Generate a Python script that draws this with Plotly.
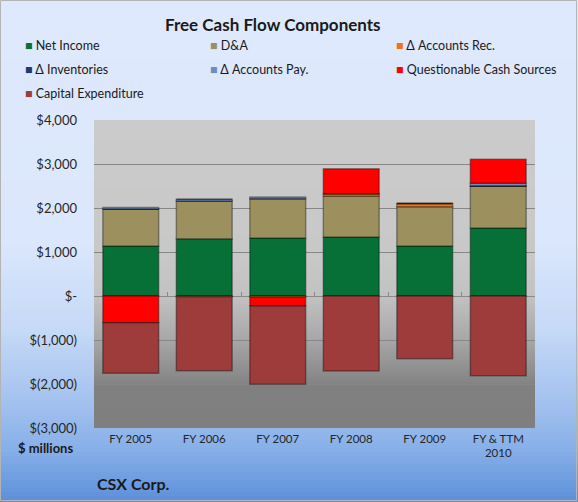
import plotly.graph_objects as go

# ---------------- data ----------------
CATEGORIES = ["FY 2005", "FY 2006", "FY 2007", "FY 2008", "FY 2009", "FY & TTM<br>2010"]

NET_INCOME = [1136, 1303, 1318, 1340, 1136, 1545]
DA = [840, 856, 894, 925, 894, 947]
ACCOUNTS_REC = [0, -15, -20, 60, 75, 0]
INVENTORIES = [0, 0, 0, 0, 0, 12]
ACCOUNTS_PAY = [35, 40, 40, 0, 0, 58]
QUESTIONABLE = [-606, 0, -207, 569, 0, 546]
CAPEX = [-1151, -1682, -1780, -1705, -1424, -1810]

SERIES_NAMES = ["Net Income", "D&A", "Δ Accounts Rec.", "Δ Inventories",
                "Δ Accounts Pay.", "Questionable Cash Sources", "Capital Expenditure"]
SERIES_VALUES = [NET_INCOME, DA, ACCOUNTS_REC, INVENTORIES, ACCOUNTS_PAY, QUESTIONABLE, CAPEX]
SERIES_COLORS = ["#077036", "#9c915e", "#ee7418", "#1f3b6e", "#6f8cc0", "#ff0000", "#9e3b3b"]

Y_TICKS = [-3000, -2000, -1000, 0, 1000, 2000, 3000, 4000]
Y_TICK_TEXT = ["$(3,000)", "$(2,000)", "$(1,000)", "$-", "$1,000", "$2,000", "$3,000", "$4,000"]

# ---------------- layout geometry ----------------
W, H = 578, 502
ML, MR, MT, MB = 94, 43, 120, 74
PW, PH = W - ML - MR, H - MT - MB
FONT = "Lato, 'Open Sans', sans-serif"


def px_x(x):
    return (x - ML) / PW


def px_y(y):
    return (H - MB - y) / PH


def hex2rgb(h):
    h = h.lstrip("#")
    return tuple(int(h[i:i + 2], 16) for i in (0, 2, 4))


def interp(stops, v):
    for (a, ca), (b, cb) in zip(stops, stops[1:]):
        if a <= v <= b:
            t = 0 if b == a else (v - a) / (b - a)
            r1, g1, b1 = hex2rgb(ca)
            r2, g2, b2 = hex2rgb(cb)
            return "rgb(%d,%d,%d)" % (round(r1 + (r2 - r1) * t), round(g1 + (g2 - g1) * t), round(b1 + (b2 - b1) * t))
    return stops[-1][1]


fig = go.Figure()

for name, vals, col in zip(SERIES_NAMES, SERIES_VALUES, SERIES_COLORS):
    fig.add_trace(go.Bar(
        x=CATEGORIES, y=vals, name=name,
        marker=dict(color=col, line=dict(color="rgba(0,0,0,0.35)", width=1.5)),
        showlegend=False,
    ))

# helper trace for the zero-line axis with boundary ticks
fig.add_trace(go.Scatter(x=CATEGORIES, y=[0] * len(CATEGORIES), xaxis="x2", mode="markers",
                         marker=dict(opacity=0), showlegend=False, hoverinfo="skip"))

shapes = []
# paper background gradient (pixel rows)
paper_stops = [(0, "#dfe9fd"), (240, "#dbe7fc"), (330, "#c6d9f7"), (400, "#a4c2ef"),
               (450, "#87afe8"), (502, "#5c8fd9")]
step = 4
for y in range(0, H, step):
    c = interp(paper_stops, y + step / 2)
    shapes.append(dict(type="rect", xref="paper", yref="paper", layer="below",
                       x0=px_x(0), x1=px_x(W), y0=px_y(min(y + step + 0.5, H)), y1=px_y(y),
                       fillcolor=c, line=dict(width=0)))
# plot-area gradient (pixel rows inside the plot area)
top, bot = MT, H - MB
zero_px = top + PH * 4 / 7
plot_stops = [(top, "#cbcbcb"), (zero_px - 40, "#c8c8c8"), (zero_px, "#c2c2c2"),
              (zero_px + 44, "#a7a7a7"), (zero_px + 86, "#858585"), (zero_px + 90, "#808080"),
              (bot, "#7f7f7f")]
y = top
while y < bot:
    c = interp(plot_stops, y + 1)
    shapes.append(dict(type="rect", xref="paper", yref="paper", layer="below",
                       x0=0, x1=1, y0=px_y(min(y + 2.5, bot)), y1=px_y(y),
                       fillcolor=c, line=dict(width=0)))
    y += 2
# outer border
shapes.append(dict(type="rect", xref="paper", yref="paper", layer="above",
                   x0=px_x(0.5), x1=px_x(W - 1.5), y0=px_y(H - 1.5), y1=px_y(0.5),
                   line=dict(color="#b4b4b4", width=1), fillcolor="rgba(0,0,0,0)"))

annotations = []
# manual legend (3 columns)
leg_cols = [23, 208, 394]
leg_rows = [45, 69, 94]
for i, (name, col) in enumerate(zip(SERIES_NAMES, SERIES_COLORS)):
    r, c = divmod(i, 3)
    annotations.append(dict(
        xref="paper", yref="paper", x=px_x(leg_cols[c]), y=px_y(leg_rows[r]),
        xanchor="left", yanchor="middle", showarrow=False,
        text="<span style='color:%s'>■</span> %s" % (col, name),
        font=dict(family=FONT, size=12.5, color="#1a1a1a")))

annotations += [
    dict(xref="paper", yref="paper", x=px_x(273), y=px_y(25), xanchor="center", yanchor="middle",
         showarrow=False, text="<b>Free Cash Flow Components</b>",
         font=dict(family=FONT, size=17, color="#1a1a1a")),
    dict(xref="paper", yref="paper", x=px_x(75), y=px_y(448), xanchor="right", yanchor="middle",
         showarrow=False, text="<b>$ millions</b>",
         font=dict(family=FONT, size=13, color="#1a1a1a")),
    dict(xref="paper", yref="paper", x=px_x(95), y=px_y(483), xanchor="left", yanchor="middle",
         showarrow=False, text="<b>CSX Corp.</b>",
         font=dict(family=FONT, size=16, color="#1a1a1a")),
]

fig.update_layout(
    width=W, height=H,
    margin=dict(l=ML, r=MR, t=MT, b=MB, autoexpand=False),
    paper_bgcolor="#dfe9fd", plot_bgcolor="rgba(0,0,0,0)",
    barmode="relative", bargap=0.24,
    showlegend=False,
    font=dict(family=FONT, color="#262626"),
    shapes=shapes, annotations=annotations,
    xaxis=dict(type="category", categoryorder="array", categoryarray=CATEGORIES,
               range=[-0.5, len(CATEGORIES) - 0.5], showgrid=False, showline=False, ticks="",
               tickfont=dict(family=FONT, size=11.5, color="#262626"), ticklabelstandoff=2,
               zeroline=False),
    xaxis2=dict(type="category", categoryorder="array", categoryarray=CATEGORIES,
                overlaying="x", anchor="free", position=3 / 7, side="bottom",
                range=[-0.5, len(CATEGORIES) - 0.5], showgrid=False, showticklabels=False,
                showline=True, linecolor="#8a8a8a", linewidth=1,
                ticks="inside", ticklen=4, tickcolor="#8a8a8a", tickson="boundaries",
                layer="below traces", zeroline=False),
    yaxis=dict(range=[-3000, 4000], tickvals=Y_TICKS, ticktext=Y_TICK_TEXT,
               showgrid=True, gridcolor="#878787", gridwidth=1, zeroline=False,
               showline=False, ticks="", ticklabelstandoff=16,
               tickfont=dict(family=FONT, size=13, color="#262626")),
)

fig.write_html("out.html", config={"displayModeBar": False},
               post_script="document.body.style.margin='0px';document.body.style.overflow='hidden';")
